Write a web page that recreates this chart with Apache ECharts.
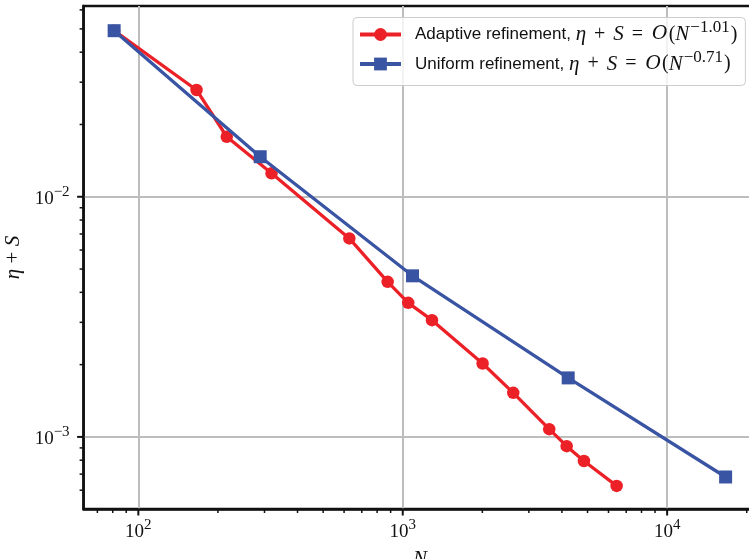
<!DOCTYPE html>
<html>
<head>
<meta charset="utf-8">
<script src="https://cdn.jsdelivr.net/npm/echarts@6/dist/echarts.min.js"></script>
<style>
html,body{margin:0;padding:0;background:#fff;}
#chart{width:749px;height:559px;}
</style>
</head>
<body>
<div id="chart"></div>
<script>
// ---- data ----
const adaptiveN   = [81, 166, 216, 319, 628, 877, 1049, 1290, 2005, 2618, 3582, 4169, 4845, 6442];
const adaptiveErr = [0.04915, 0.02784, 0.01778, 0.01252, 0.006708, 0.004423, 0.003617, 0.003064, 0.002022, 0.001526, 0.001077, 0.000915, 0.000794, 0.000625];
const uniformN    = [81, 289, 1089, 4225, 16641];
const uniformErr  = [0.04915, 0.01468, 0.004686, 0.001761, 0.000681];

const seriesNames = ['Adaptive refinement', 'Uniform refinement'];
const rateLabels  = ['−1.01', '−0.71'];

// axis ranges and ticks
const xMin = 62.08, xMax = 21720;
const yMin = 0.000501, yMax = 0.06228;
const xMajorTicks = [100, 1000, 10000];
const xMinorTicks = [70, 80, 90, 200, 300, 400, 500, 600, 700, 800, 900,
                     2000, 3000, 4000, 5000, 6000, 7000, 8000, 9000, 20000];
const yMajorTicks = [0.001, 0.01];
const yMinorTicks = [0.0006, 0.0007, 0.0008, 0.0009,
                     0.002, 0.003, 0.004, 0.005, 0.006, 0.007, 0.008, 0.009,
                     0.02, 0.03, 0.04, 0.05, 0.06];

const RED = '#EC2027', BLUE = '#3A54A4';
const INK = '#111';

function zip(a, b) { return a.map((v, i) => [v, b[i]]); }

const tickData = [];
xMajorTicks.forEach(v => tickData.push([v, yMin, 0]));
xMinorTicks.forEach(v => tickData.push([v, yMin, 1]));
yMajorTicks.forEach(v => tickData.push([xMin, v, 2]));
yMinorTicks.forEach(v => tickData.push([xMin, v, 3]));

function powLabel(v) {
  const l = Math.log10(v);
  const e = Math.round(l);
  if (Math.abs(l - e) > 1e-6) return '';
  return '{b|10}{s|' + (e < 0 ? '−' : '') + Math.abs(e) + '}';
}
const powRich = {
  b: {fontFamily: 'Liberation Serif', fontSize: 19, lineHeight: 24, color: INK, verticalAlign: 'bottom'},
  s: {fontFamily: 'Liberation Serif', fontSize: 15, lineHeight: 11, color: INK, verticalAlign: 'top'}
};

const legRich = {
  t: {fontFamily: 'Liberation Sans', fontSize: 17, color: INK, lineHeight: 30, verticalAlign: 'middle'},
  i: {fontFamily: 'Liberation Serif', fontStyle: 'italic', fontSize: 21, color: INK, lineHeight: 30, verticalAlign: 'middle'},
  o: {fontFamily: 'Liberation Serif', fontSize: 20, color: INK, lineHeight: 30, verticalAlign: 'middle', padding: [0, 8, 0, 8]},
  m: {fontFamily: 'Liberation Serif', fontSize: 20, color: INK, lineHeight: 30, verticalAlign: 'middle', padding: [0, 0, 0, 1]},
  c: {fontFamily: 'DejaVu Serif', fontStyle: 'italic', fontSize: 19, color: INK, lineHeight: 30, verticalAlign: 'middle', padding: [0, 0, 0, 1]},
  s: {fontFamily: 'Liberation Serif', fontSize: 17, color: INK, lineHeight: 18, verticalAlign: 'top', padding: [0, 0, 0, 1]}
};

const chart = echarts.init(document.getElementById('chart'), null, {renderer: 'canvas'});
chart.setOption({
  animation: false,
  backgroundColor: '#fff',
  grid: {
    left: 83.6, top: 6, right: -7.2, bottom: 50,
    show: true, borderColor: INK, borderWidth: 2.5,
    containLabel: false, outerBoundsMode: 'none'
  },
  xAxis: {
    type: 'log', logBase: 10, min: xMin, max: xMax,
    name: 'N', nameLocation: 'middle', nameGap: 40,
    nameTextStyle: {fontFamily: 'Liberation Serif', fontStyle: 'italic', fontSize: 21, color: INK},
    axisLine: {show: true, lineStyle: {color: INK, width: 2.5}},
    axisTick: {show: false},
    minorTick: {show: false},
    splitLine: {show: true, showMinLine: false, showMaxLine: false, lineStyle: {color: '#bdbdbd', width: 2}},
    axisLabel: {formatter: powLabel, rich: powRich, margin: 9, showMinLabel: true, showMaxLabel: true}
  },
  yAxis: {
    type: 'log', logBase: 10, min: yMin, max: yMax,
    name: '{i|η} + {i|S}', nameLocation: 'middle', nameGap: 57,
    nameTextStyle: {fontFamily: 'Liberation Serif', fontSize: 21, color: INK,
      rich: {i: {fontFamily: 'Liberation Serif', fontStyle: 'italic', fontSize: 21, color: INK}}},
    axisLine: {show: true, lineStyle: {color: INK, width: 2.5}},
    axisTick: {show: false},
    splitLine: {show: true, showMinLine: false, showMaxLine: false, lineStyle: {color: '#bdbdbd', width: 2}},
    axisLabel: {formatter: powLabel, rich: powRich, margin: 14}
  },
  legend: {
    orient: 'vertical', left: 353, top: 17.5,
    data: seriesNames,
    padding: [2, 8, 11, 5], itemGap: 4,
    itemWidth: 41, itemHeight: 16,
    backgroundColor: 'rgba(255,255,255,0.8)',
    borderColor: '#cccccc', borderWidth: 1, borderRadius: 4,
    lineStyle: {width: 4},
    formatter: function (name) {
      const i = seriesNames.indexOf(name);
      return '{t|' + name + ', }{i|η}{o|+}{i|S}{o|=}{c|O}{m|(}{i|N}{s|' + rateLabels[i] + '}{m|)}';
    },
    textStyle: {padding: [0, 0, 0, 9], rich: legRich}
  },
  series: [
    {
      name: seriesNames[0], type: 'line', data: zip(adaptiveN, adaptiveErr),
      symbol: 'circle', symbolSize: 12.5,
      lineStyle: {color: RED, width: 3.3}, itemStyle: {color: RED},
      z: 3
    },
    {
      name: seriesNames[1], type: 'line', data: zip(uniformN, uniformErr),
      symbol: 'rect', symbolSize: 13,
      lineStyle: {color: BLUE, width: 3.3}, itemStyle: {color: BLUE},
      z: 4
    },
    {
      name: 'ticks', type: 'custom', data: tickData, clip: false, silent: true, z: 10,
      encode: {x: 0, y: 1},
      renderItem: function (params, api) {
        const kind = api.value(2);
        const p = api.coord([api.value(0), api.value(1)]);
        const len = (kind === 0 || kind === 2) ? 6.5 : 4;
        const w = (kind === 0 || kind === 2) ? 2 : 1.5;
        if (kind < 2) {
          return {type: 'line', shape: {x1: p[0], y1: p[1], x2: p[0], y2: p[1] + len}, style: {stroke: INK, lineWidth: w}};
        }
        return {type: 'line', shape: {x1: p[0], y1: p[1], x2: p[0] - len, y2: p[1]}, style: {stroke: INK, lineWidth: w}};
      }
    }
  ]
});
</script>
</body>
</html>
